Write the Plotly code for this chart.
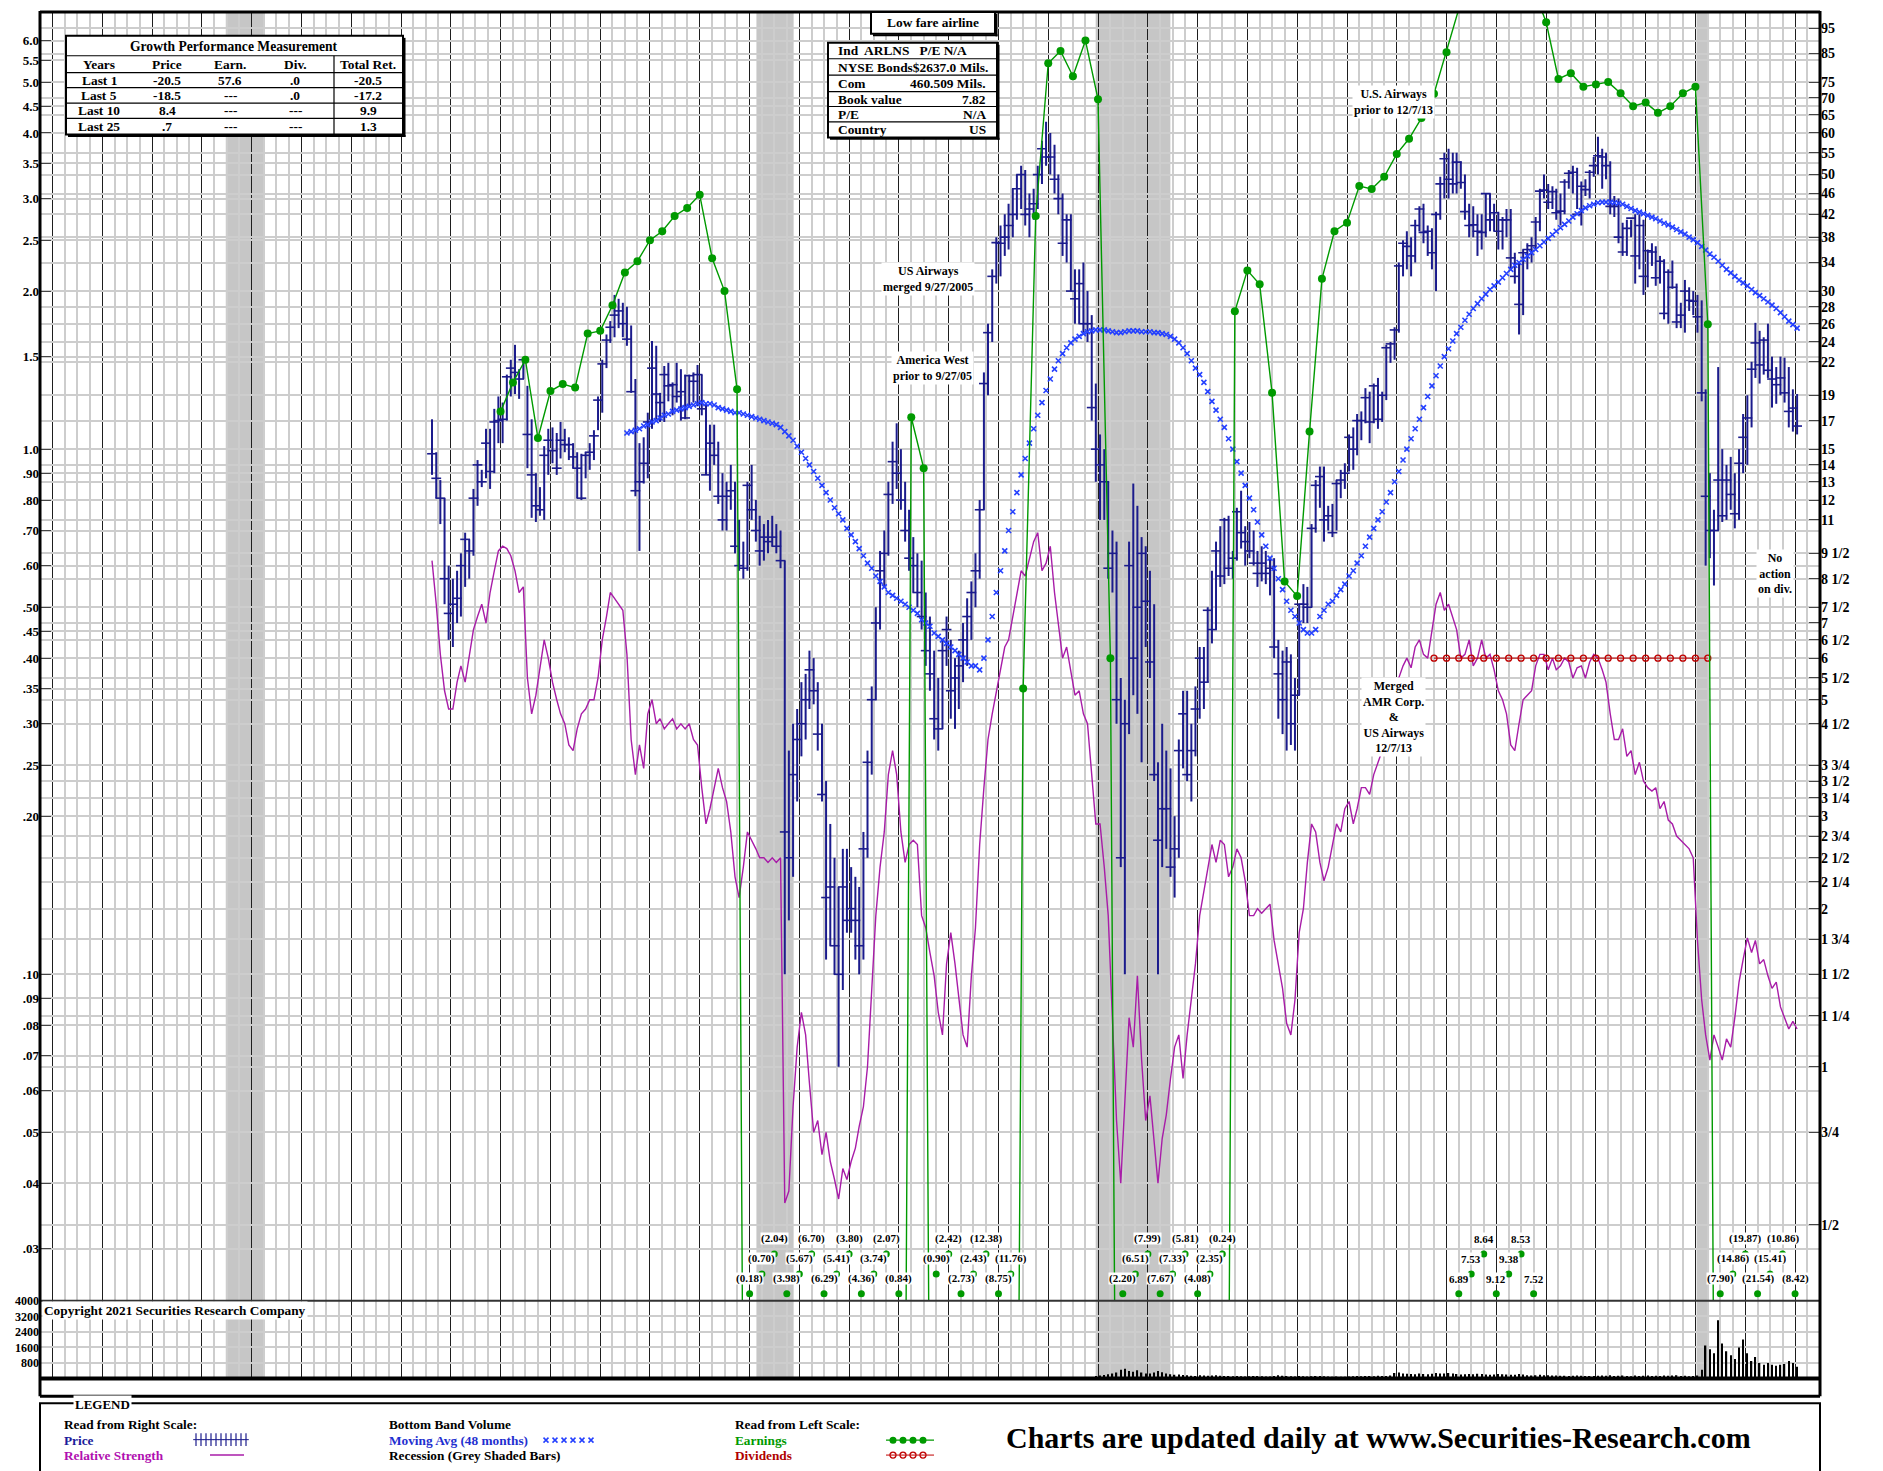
import numpy as np
import pandas as pd
import plotly.graph_objects as go

W, H = 1883, 1471
SERIF = "Liberation Serif"
NAVY = "#1b1b8c"
RS_COLOR = "#a81ca8"
MA_COLOR = "#2440ff"
EARN_COLOR = "#009a00"
DIV_COLOR = "#c00000"
GRID = "#cdcdcd"
REC = "#c6c6c6"

# ----------------------------------------------------------------- data
price_start = "1994-08"
price_high = [
    17.1, 14.8, 13.1, 12.1, 9.0,
    8.5, 8.8, 9.5, 10.4, 10.1, 12.6, 14.3, 13.7, 16.4, 16.4, 17.9, 18.9,
    18.4, 20.8, 22.2, 23.7, 21.3, 22.4, 19.8, 17.1, 13.5, 12.7, 15.2, 16.4,
    16.5, 16.1, 16.9, 16.4, 15.8, 15.4, 14.8, 14.7, 14.8, 15.4, 16.3, 18.9,
    22.2, 24.8, 26.3, 29.5, 29.0, 28.5, 28.0, 25.8, 20.4, 15.4, 15.8, 17.6,
    24.1, 23.6, 19.2, 21.6, 21.9, 20.1, 21.9, 21.3, 20.8, 20.8, 21.0, 21.7,
    20.8, 18.2, 16.7, 16.7, 15.5, 13.5, 13.0, 14.0, 13.0, 11.0, 10.0, 13.0,
    14.0, 12.0, 11.2, 10.8, 11.0, 11.2, 10.8, 10.5, 9.2, 4.0, 4.5, 4.8,
    5.4, 5.6, 6.2, 6.0, 5.4, 4.5, 3.5, 2.9, 2.5, 2.2, 2.6, 2.6,
    2.4, 2.3, 2.2, 2.8, 4.0, 5.3, 7.5, 9.6, 10.5, 13.0, 15.5, 16.8,
    15.0, 13.0, 11.5, 10.2, 9.5, 9.2, 8.0, 7.2, 6.2, 5.5, 6.5, 7.2,
    6.5, 6.0, 6.2, 7.0, 7.8, 8.4, 9.5, 12.0, 21.0, 26.0, 33.0, 38.0,
    40, 42, 44, 47, 50, 52, 51, 46, 47, 52, 58, 63,
    60, 57, 50, 46, 42, 42, 33, 33, 34, 30, 27, 20,
    16, 15, 13, 10.5, 10, 5.5, 5.0, 10.0, 12.9, 11.7, 10.2, 9.8,
    8.8, 7.6, 3.8, 4.5, 4.0, 3.7, 3.0, 4.2, 5.2, 5.2, 4.5, 5.3,
    6.3, 6.3, 7.5, 8.8, 10.0, 10.7, 11.1, 11.2, 9.6, 11.6, 12.5, 10.7,
    10.9, 10.5, 9.6, 9.8, 9.6, 9.3, 9.3, 6.5, 6.2, 6.3, 6.1, 5.5,
    7.6, 8.3, 8.2, 10.8, 13.1, 13.9, 13.9, 11.7, 11.8, 13.1, 13.7, 14.1,
    16.0, 16.5, 17.5, 17.7, 19.6, 19.3, 20.0, 20.5, 19.3, 23.7, 24.0, 25.6,
    34, 37.5, 39, 38, 41, 43.5, 44, 40, 39.5, 42.5, 49.5, 55,
    56, 55, 55, 53, 50, 44, 43.5, 42, 42, 46, 46, 44,
    42.5, 41.5, 43, 43, 35.5, 34, 36, 37, 38, 41.5, 47, 50,
    48, 47.5, 47, 46, 49, 51, 52, 51.5, 48.5, 49, 51, 54,
    59, 56, 55, 53, 45.5, 45, 40.5, 41, 41, 42, 42, 41,
    36, 37, 36.5, 35, 34.5, 33, 34.3, 31, 28.5, 31.5, 30.5, 30,
    29.5, 28.8, 19.5, 13.5, 11.5, 21.5, 15, 14, 14.5, 13.5, 15.0, 17.5,
    19.0, 22, 26.1, 25.2, 24.5, 26, 22.5, 21.5, 22.5, 22.4, 21.5, 19.5,
    19.1,
]
price_low = [
    13.4, 12.1, 10.8, 7.6, 6.5,
    6.3, 7.0, 7.2, 8.2, 8.5, 9.4, 11.7, 12.7, 13.2, 12.6, 13.5, 15.4,
    15.4, 17.0, 18.9, 19.1, 18.7, 20.4, 13.8, 11.1, 10.9, 11.2, 11.0, 13.4,
    14.1, 13.4, 14.4, 14.8, 14.3, 13.8, 12.1, 12.0, 13.2, 13.7, 14.3, 16.3,
    17.6, 21.4, 23.9, 24.5, 25.5, 24.5, 23.6, 19.2, 12.2, 9.6, 12.9, 13.2,
    16.4, 17.1, 16.9, 16.9, 18.5, 17.4, 18.4, 17.0, 17.1, 18.1, 18.4, 18.1,
    17.4, 13.4, 12.5, 14.0, 11.8, 10.5, 10.5, 11.5, 9.5, 8.8, 8.5, 8.8,
    11.0, 10.0, 9.0, 9.2, 9.5, 9.8, 9.5, 8.9, 1.5, 1.9, 2.3, 3.2,
    3.9, 4.2, 4.8, 4.9, 4.0, 3.2, 1.6, 1.7, 1.5, 1.0, 1.4, 1.8,
    1.8, 1.6, 1.5, 1.6, 2.5, 3.6, 5.0, 6.8, 8.2, 9.4, 11.8, 12.6,
    11.5, 10.0, 8.8, 8.0, 7.5, 6.8, 5.8, 5.2, 4.2, 4.0, 4.4, 5.8,
    4.6, 4.4, 4.8, 5.4, 5.8, 6.5, 7.5, 8.5, 11.5, 19.0, 24.0, 31.0,
    32, 35, 36, 38, 41, 43, 40, 38, 41, 43, 48, 52,
    50, 46, 42, 35, 34, 30, 26, 26, 25, 24, 17, 13,
    11, 11, 8.5, 8.0, 4.5, 2.4, 1.5, 4.3, 5.1, 4.7, 3.8, 6.3,
    5.5, 3.5, 1.5, 2.4, 2.6, 2.3, 2.1, 2.5, 3.7, 3.5, 3.2, 3.9,
    4.6, 4.8, 5.4, 6.4, 6.8, 8.2, 8.3, 8.6, 8.5, 9.2, 9.7, 9.0,
    9.3, 9.0, 8.2, 8.4, 8.3, 7.9, 6.0, 4.6, 4.3, 4.0, 4.1, 4.0,
    5.1, 7.0, 7.0, 7.5, 10.4, 11.6, 10.0, 10.5, 10.2, 10.5, 12.1, 12.6,
    13.6, 13.7, 14.6, 15.6, 16.8, 15.4, 16.8, 16.4, 16.9, 18.6, 21.9, 22.2,
    25, 32, 33, 32, 34, 39, 37, 35, 33, 30, 41, 45,
    45, 46, 46, 47, 41, 38, 38, 35, 36, 38, 39, 39,
    36, 36, 38, 33, 31, 24.8, 27, 33, 34, 36, 39, 45,
    43, 43, 41, 40, 42, 47, 46, 43, 40, 45.5, 45, 49.5,
    50, 47, 49, 42, 41.5, 37, 35, 35, 38, 31, 33, 29.5,
    30.5, 33.5, 30.7, 31, 26.5, 26, 30.3, 25.5, 25.5, 25, 27.5, 27,
    25, 18.5, 9.0, 9.3, 8.25, 10.5, 10.9, 11, 11.5, 10.6, 11.0, 13.5,
    14.0, 16.5, 20.5, 20.0, 20.8, 20.5, 18, 18.3, 19, 18.4, 16.5, 16.2,
    16.0,
]
price_close = [
    14.7, 13.2, 12.1, 8.5, 7.3,
    7.6, 7.8, 9.0, 10.1, 9.6, 12.1, 14.0, 13.0, 15.4, 13.6, 16.9, 17.0,
    17.1, 20.6, 21.4, 21.0, 20.4, 22.2, 16.0, 13.4, 11.7, 11.5, 14.6, 15.6,
    14.9, 13.8, 15.6, 15.3, 15.3, 14.5, 13.8, 12.1, 14.6, 14.8, 15.9, 18.6,
    21.8, 24.2, 25.6, 27.0, 27.5, 26.0, 24.3, 19.3, 12.5, 13.0, 14.1, 16.9,
    21.4, 19.1, 18.4, 20.8, 19.8, 19.9, 18.9, 19.3, 17.2, 20.7, 20.2, 20.8,
    17.9, 13.4, 15.4, 14.6, 12.2, 11.0, 12.2, 12.5, 9.8, 9.0, 8.9, 12.8,
    11.5, 10.5, 9.6, 10.2, 10.0, 10.2, 9.8, 9.2, 2.8, 2.5, 3.6, 4.2,
    4.5, 5.0, 5.7, 5.2, 4.3, 3.3, 2.1, 2.2, 1.7, 1.5, 2.2, 1.9,
    2.0, 1.9, 1.7, 2.6, 3.8, 5.0, 7.0, 8.8, 9.5, 12.3, 14.2, 13.5,
    12.0, 10.5, 9.3, 9.0, 8.0, 7.2, 6.2, 5.6, 4.6, 4.4, 6.2, 6.8,
    5.2, 5.5, 5.8, 6.5, 7.2, 8.0, 8.8, 11.5, 20.0, 25.0, 32.0, 37.1,
    37, 38, 40, 42, 47, 50, 42, 43, 44, 50, 56, 54,
    54, 49, 45, 37, 41, 30, 29, 31, 26, 26, 18, 15,
    14, 13, 8.9, 9.5, 5.0, 2.5, 4.5, 9.0, 6.0, 7.5, 9.5, 7.7,
    5.9, 3.6, 2.7, 3.1, 3.1, 2.4, 2.6, 4.0, 4.7, 3.6, 4.0, 4.8,
    6.0, 5.4, 7.4, 6.8, 9.6, 8.6, 11.0, 8.9, 9.3, 11.4, 10.4, 10.0,
    9.6, 9.1, 8.7, 9.1, 8.7, 8.9, 6.3, 5.6, 5.0, 5.9, 4.5, 5.1,
    7.6, 7.6, 7.5, 10.6, 12.8, 13.3, 11.0, 11.2, 10.4, 12.9, 13.1, 13.5,
    15.8, 15.0, 17.0, 17.0, 18.8, 16.9, 19.8, 17.1, 19.0, 23.4, 23.8, 25.3,
    33.5, 37, 36.5, 35, 40, 43, 38.8, 39, 35.5, 42, 48, 53.6,
    49, 48, 52.8, 48.3, 42.5, 40, 40.1, 39, 38.8, 46, 41, 42.3,
    39, 41, 41, 34.7, 32, 28.3, 35.5, 36, 36.6, 40.6, 46.5, 46.7,
    44.3, 46.4, 42.3, 42.6, 48.4, 50.3, 50.5, 42, 47.5, 46.8, 50.5, 52,
    54.3, 54, 52, 43.5, 43.5, 38, 35.6, 39.5, 41.3, 35, 40, 32,
    35.8, 35.6, 31.8, 34.2, 27.2, 32.6, 30.5, 26.2, 27, 30, 28.8, 28.7,
    26.8, 19.2, 12.2, 10.5, 10.5, 13.1, 11.2, 13.1, 12.3, 11.3, 14.1, 15.8,
    17.2, 21.3, 23.9, 21.7, 24.2, 21.2, 20.4, 19.9, 20.5, 19.2, 17.7, 17.96,
    16.6,
]
rel_strength = [
    9.2, 7.6, 6.1, 5.2, 4.8,
    4.8, 5.4, 5.8, 5.4, 6.0, 6.8, 7.2, 7.6, 7.0, 8.0, 8.8, 9.6,
    9.8, 9.7, 9.4, 8.8, 8.0, 8.2, 5.5, 4.7, 5.1, 5.7, 6.5, 6.0,
    5.4, 5.0, 4.7, 4.5, 4.1, 4.0, 4.4, 4.7, 4.8, 5.0, 5.0, 5.5,
    6.5, 7.2, 8.0, 7.8, 7.6, 7.4, 6.1, 4.2, 3.6, 4.1, 3.7, 4.7,
    5.0, 4.5, 4.6, 4.4, 4.5, 4.6, 4.4, 4.5, 4.4, 4.5, 4.2, 4.1,
    3.4, 2.9, 3.1, 3.4, 3.7, 3.4, 3.2, 2.8, 2.3, 2.1, 2.4, 2.8,
    2.7, 2.6, 2.5, 2.5, 2.45, 2.5, 2.45, 2.5, 0.55, 0.58, 0.84, 1.09,
    1.27, 1.15, 0.93, 0.75, 0.79, 0.68, 0.75, 0.66, 0.61, 0.56, 0.64, 0.61,
    0.66, 0.70, 0.77, 0.84, 1.0, 1.41, 1.94, 2.4, 2.8, 3.6, 4.0, 3.6,
    2.8, 2.45, 2.65, 2.7, 2.65, 1.94, 1.84, 1.65, 1.49, 1.27, 1.15, 1.57,
    1.8, 1.57, 1.34, 1.15, 1.09, 1.49, 1.84, 2.65, 3.4, 4.2, 4.7, 5.2,
    5.7, 6.3, 6.5, 7.2, 8.0, 8.8, 8.6, 9.3, 10.0, 10.4, 8.8, 9.1,
    9.8, 8.0, 7.0, 6.0, 6.3, 5.7, 5.1, 5.2, 4.7, 4.5, 3.6, 2.9,
    2.9, 2.4, 1.94, 1.27, 0.79, 0.6, 0.84, 1.24, 1.09, 1.49, 1.03, 0.79,
    0.88, 0.72, 0.6, 0.73, 0.81, 0.95, 1.09, 1.15, 0.95, 1.15, 1.34, 1.57,
    1.94, 2.15, 2.4, 2.65, 2.45, 2.7, 2.65, 2.3, 2.4, 2.6, 2.5, 2.26,
    1.94, 1.94, 2.0, 1.96, 2.0, 2.04, 1.74, 1.57, 1.41, 1.21, 1.15, 1.34,
    1.8, 2.0, 2.45, 2.9, 2.8, 2.45, 2.26, 2.4, 2.65, 2.9, 2.8, 3.1,
    3.2, 2.9, 3.1, 3.4, 3.4, 3.3, 3.6, 3.8, 4.0, 4.5, 5.0, 5.4,
    5.5, 5.8, 6.0, 5.75, 6.3, 6.5, 6.1, 6.0, 6.8, 7.6, 8.0, 7.4,
    7.6, 7.2, 6.8, 6.0, 6.1, 6.5, 5.8, 6.0, 6.5, 6.0, 6.1, 5.7,
    5.2, 5.0, 4.7, 4.1, 4.0, 4.5, 5.0, 5.1, 5.2, 5.8, 6.1, 6.1,
    5.7, 6.0, 5.7, 5.8, 6.0, 5.9, 5.5, 5.75, 5.8, 5.5, 5.9, 6.1,
    6.0, 5.7, 5.4, 4.7, 4.2, 4.2, 4.4, 3.9, 4.0, 3.6, 3.8, 3.5,
    3.4, 3.35, 3.4, 3.1, 3.2, 2.95, 2.9, 2.75, 2.7, 2.65, 2.6, 2.5,
    1.74, 1.34, 1.15, 1.03, 1.15, 1.09, 1.03, 1.13, 1.09, 1.24, 1.45, 1.6,
    1.76, 1.65, 1.74, 1.57, 1.6, 1.49, 1.41, 1.45, 1.3, 1.24, 1.18, 1.22,
    1.18,
]
ma_start = "1998-07"
moving_avg = [
    16.1, 16.2, 16.3, 16.4, 16.6, 16.7,
    16.9, 17.0, 17.2, 17.4, 17.5, 17.7, 17.8, 17.9, 18.0, 18.1, 18.2, 18.3,
    18.4, 18.3, 18.3, 18.2, 18.0, 17.9, 17.8, 17.7, 17.6, 17.6, 17.5, 17.4,
    17.3, 17.2, 17.1, 17.0, 16.9, 16.8, 16.7, 16.5, 16.2, 15.9, 15.6, 15.2,
    14.8, 14.4, 14.0, 13.6, 13.2, 12.8, 12.4, 12.0, 11.6, 11.3, 11.0, 10.6,
    10.3, 10.0, 9.7, 9.4, 9.1, 8.9, 8.6, 8.4, 8.2, 8.0, 7.9, 7.8,
    7.7, 7.6, 7.5, 7.4, 7.3, 7.1, 7.0, 6.9, 6.7, 6.6, 6.5, 6.4,
    6.3, 6.2, 6.1, 6.0, 5.9, 5.8, 5.8, 5.7, 6.0, 6.5, 7.2, 8.0,
    8.8, 9.6, 10.5, 11.4, 12.4, 13.4, 14.4, 15.4, 16.4, 17.4, 18.4, 19.4,
    20.4, 21.3, 22.1, 22.8, 23.4, 23.9, 24.3, 24.6, 24.9, 25.1, 25.2, 25.3,
    25.3, 25.3, 25.2, 25.1, 25.0, 25.0, 25.1, 25.2, 25.2, 25.2, 25.1, 25.1,
    25.1, 25.0, 25.0, 24.9, 24.8, 24.6, 24.3, 23.9, 23.4, 22.8, 22.1, 21.4,
    20.8, 20.1, 19.3, 18.5, 17.8, 17.1, 16.5, 15.7, 15.0, 14.2, 13.5, 12.8,
    12.1, 11.5, 10.9, 10.3, 9.8, 9.3, 8.9, 8.5, 8.1, 7.7, 7.4, 7.2,
    7.0, 6.8, 6.7, 6.7, 6.8, 7.2, 7.4, 7.6, 7.7, 7.9, 8.1, 8.3,
    8.6, 8.8, 9.1, 9.4, 9.8, 10.2, 10.6, 11.0, 11.4, 11.9, 12.4, 13.0,
    13.6, 14.3, 15.0, 15.7, 16.4, 17.1, 18.0, 18.9, 19.8, 20.7, 21.6, 22.5,
    23.3, 24.1, 24.9, 25.6, 26.4, 27.1, 27.8, 28.4, 29.0, 29.6, 30.2, 30.7,
    31.2, 31.8, 32.4, 33.0, 33.6, 34.0, 34.5, 35.0, 35.5, 36.0, 36.6, 37.2,
    37.8, 38.4, 39.0, 39.6, 40.2, 40.8, 41.5, 42.1, 42.7, 43.2, 43.6, 43.9,
    44.2, 44.3, 44.3, 44.3, 44.2, 44.1, 43.9, 43.5, 43.1, 42.7, 42.4, 42.1,
    41.8, 41.5, 41.2, 40.8, 40.4, 40.1, 39.7, 39.3, 38.9, 38.5, 38.0, 37.6,
    37.1, 36.5, 35.9, 35.3, 34.8, 34.2, 33.6, 33.0, 32.5, 32.0, 31.5, 31.1,
    30.7, 30.2, 29.8, 29.4, 29.0, 28.6, 28.2, 27.8, 27.3, 26.8, 26.3, 25.9,
    25.5,
]
volume_start = "2007-12"
volume = [
    120,
    150, 180, 220, 250, 300, 450, 500, 380, 350, 420, 300, 250,
    260, 300, 380, 320, 260, 210, 190, 200, 180, 160, 140, 130,
    160, 150, 140, 150, 170, 140, 130, 120, 110, 120, 110, 100,
    110, 120, 130, 110, 100, 100, 120, 160, 140, 130, 110, 100,
    120, 110, 100, 110, 120, 130, 110, 100, 90, 100, 90, 90,
    100, 110, 120, 110, 130, 120, 110, 140, 120, 130, 150, 280,
    300, 260, 240, 230, 220, 250, 230, 220, 240, 280, 260, 250,
    280, 250, 230, 200, 220, 230, 220, 240, 230, 200, 190, 200,
    230, 210, 200, 190, 190, 230, 200, 160, 150, 160, 190, 160,
    170, 150, 150, 140, 140, 130, 140, 150, 140, 120, 130, 120,
    140, 150, 140, 170, 130, 140, 150, 120, 110, 150, 130, 140,
    150, 120, 140, 130, 150, 140, 150, 160, 130, 140, 110, 120,
    150, 450, 1700, 1500, 1300, 3000, 1800, 1400, 1200, 1000, 1600, 2000,
    1300, 900, 1100, 800, 700, 800, 700, 650, 700, 750, 900, 800,
    600,
]
earn_start = "1996-01"
earnings = [
    1.18, 1.34, 1.48, 1.05,
    1.29, 1.33, 1.31, 1.66,
    1.68, 1.88, 2.17, 2.28,
    2.50, 2.60, 2.78, 2.88,
    3.05, 2.31, 2.00, 1.30,
    -0.18, -0.70, -2.04, -3.98,
    -5.67, -6.70, -6.29, -5.41,
    -3.80, -4.36, -3.74, -2.07,
    -0.84, 1.15, 0.92, -0.90,
    -2.42, -2.73, -2.43, -12.38,
    -8.75, -11.76, 0.35, 2.78,
    5.43, 5.73, 5.13, 6.00,
    4.64, 0.40, -2.20, -6.51,
    -7.99, -7.67, -7.33, -5.81,
    -4.08, -2.35, -0.24, 1.83,
    2.19, 2.06, 1.28, 0.56,
    0.525, 1.08, 2.11, 2.60,
    2.70, 3.17, 3.13, 3.30,
    3.65, 3.90, 4.27, 4.75,
    5.70, 6.89, 7.53, 8.64,
    9.12, 9.38, 8.53, 7.52,
    6.50, 5.07, 5.20, 4.90,
    4.95, 5.00, 4.76, 4.50,
    4.57, 4.37, 4.50, 4.76,
    4.90, 1.73, -7.90, -14.86,
    -19.87, -21.54, -15.41, -10.86,
    -8.42,
]
div_start = "2014-10"
dividends = [0.40, 0.40, 0.40, 0.40, 0.40, 0.40, 0.40, 0.40, 0.40, 0.40, 0.40, 0.40,
             0.40, 0.40, 0.40, 0.40, 0.40, 0.40, 0.40, 0.40, 0.40, 0.40, 0.40]
recessions = [("1990-06-25", "1991-04-01"), ("2001-02-20", "2001-11-20"),
              ("2007-12-15", "2009-06-15"), ("2020-01-10", "2020-04-10")]
years = list(range(1987, 2023))

right_vals = [95, 85, 75, 70, 65, 60, 55, 50, 46, 42, 38, 34, 30, 28, 26, 24, 22, 19, 17, 15,
              14, 13, 12, 11, 9.5, 8.5, 7.5, 7, 6.5, 6, 5.5, 5, 4.5, 3.75, 3.5, 3.25, 3, 2.75,
              2.5, 2.25, 2, 1.75, 1.5, 1.25, 1, 0.75, 0.5]
right_text = ["95", "85", "75", "70", "65", "60", "55", "50", "46", "42", "38", "34", "30", "28",
              "26", "24", "22", "19", "17", "15", "14", "13", "12", "11", "9 1/2", "8 1/2",
              "7 1/2", "7", "6 1/2", "6", "5 1/2", "5", "4 1/2", "3 3/4", "3 1/2", "3 1/4", "3",
              "2 3/4", "2 1/2", "2 1/4", "2", "1 3/4", "1 1/2", "1 1/4", "1", "3/4", "1/2"]
left_vals = [6.0, 5.5, 5.0, 4.5, 4.0, 3.5, 3.0, 2.5, 2.0, 1.5, 1.0, 0.9, 0.8, 0.7, 0.6, 0.5, 0.45,
             0.4, 0.35, 0.3, 0.25, 0.2, 0.1, 0.09, 0.08, 0.07, 0.06, 0.05, 0.04, 0.03]
left_text = ["6.0", "5.5", "5.0", "4.5", "4.0", "3.5", "3.0", "2.5", "2.0", "1.5", "1.0", ".90",
             ".80", ".70", ".60", ".50", ".45", ".40", ".35", ".30", ".25", ".20", ".10", ".09",
             ".08", ".07", ".06", ".05", ".04", ".03"]
extra_grid = [100, 90, 80, 44, 40, 36, 32, 20, 18, 16, 10, 9, 8, 4.75, 4.25, 4, 1.875, 1.625,
              1.375, 1.125, 0.875, 0.625, 0.4]
vol_vals = [800, 1600, 2400, 3200, 4000]
vol_left_text = ["800", "1600", "2400", "3200", "4000"]
vol_right_text = ["800", "1600", "2400", "3200", "4000M"]

# ----------------------------------------------------------------- geometry
X0, X1 = 40, 1820
PRICE_TOP, PRICE_BOT, VOL_BOT, STRIP_BOT, LEG_TOP = 5, 1300, 1378, 1396, 1401
LEFT_LO, LEFT_HI = 0.02389, 6.80      # earnings scale at bottom / top of price panel
SCALE_RATIO = 15.0                     # right (price) scale = 15 x left scale
XR = ["1986-10-01", "2022-07-03"]


def pxx(x):
    return x / W


def pyy(y):
    return 1 - y / H


XDOM = [pxx(X0), pxx(X1)]


def month_centers(start, n):
    return [d.strftime("%Y-%m-%d") for d in
            pd.date_range(start + "-01", periods=n, freq="MS") + pd.Timedelta(days=15)]


def quarters(start, n):
    return [d.strftime("%Y-%m-%d") for d in pd.date_range(start + "-01", periods=n, freq="QS")]


def left_val_at_px(ypx):
    lo, hi = np.log10(LEFT_LO), np.log10(LEFT_HI)
    f = (PRICE_BOT - ypx) / (PRICE_BOT - PRICE_TOP)
    return 10 ** (lo + f * (hi - lo))


pdates = month_centers(price_start, len(price_high))
mdates = month_centers(ma_start, len(moving_avg))
vdates = month_centers(volume_start, len(volume))
edates = quarters(earn_start, len(earnings))
ddates = quarters(div_start, len(dividends))

fig = go.Figure()

# volume
fig.add_trace(go.Bar(x=vdates, y=volume, xaxis="x2", yaxis="y3", width=10 * 86400000,
                     marker=dict(color="black", line=dict(width=0)), hoverinfo="skip"))

# relative strength (right scale)
fig.add_trace(go.Scatter(x=pdates, y=rel_strength, mode="lines", xaxis="x", yaxis="y",
                         line=dict(color=RS_COLOR, width=1.4), hoverinfo="skip"))

# price bars
bx, by = [], []
for d, hi, lo in zip(pdates, price_high, price_low):
    bx += [d, d, None]
    by += [lo, hi, None]
fig.add_trace(go.Scatter(x=bx, y=by, mode="lines", xaxis="x", yaxis="y",
                         line=dict(color=NAVY, width=2), hoverinfo="skip", connectgaps=False))
fig.add_trace(go.Scatter(x=pdates, y=price_close, mode="markers", xaxis="x", yaxis="y",
                         marker=dict(symbol="line-ew", size=7, line=dict(color=NAVY, width=1.6)),
                         hoverinfo="skip"))

# moving average
fig.add_trace(go.Scatter(x=mdates, y=moving_avg, mode="markers", xaxis="x", yaxis="y",
                         marker=dict(symbol="x-thin", size=5, line=dict(color=MA_COLOR, width=1.6)),
                         hoverinfo="skip"))

# dividends (left scale)
fig.add_trace(go.Scatter(x=ddates, y=dividends, mode="lines+markers", xaxis="x", yaxis="y2",
                         line=dict(color=DIV_COLOR, width=1),
                         marker=dict(symbol="circle-open", size=6, color=DIV_COLOR,
                                     line=dict(width=1.3)), hoverinfo="skip"))

# earnings (left scale); non-positive values run off the bottom of the panel
e_plot = [v if v > 0 else 1e-4 for v in earnings]
fig.add_trace(go.Scatter(x=edates, y=e_plot, mode="lines+markers", xaxis="x", yaxis="y2",
                         line=dict(color=EARN_COLOR, width=1.4),
                         marker=dict(size=8, color=EARN_COLOR), hoverinfo="skip"))

# off-scale earnings labels at the foot of the price panel
ROW_DOT = [1293, 1273, 1253]
lab_x, lab_y = [], []
annotations = []
last_i, counter = None, 0
for i, (d, v) in enumerate(zip(edates, earnings)):
    if v > 0 and v <= LEFT_HI:
        continue
    if last_i is None or i - last_i > 3:
        counter = 0
    row = counter % 3
    counter += 1
    last_i = i
    lab_x.append(d)
    lab_y.append(left_val_at_px(ROW_DOT[row]))
    txt = f"({abs(v):.2f})" if v <= 0 else f"{v:.2f}"
    annotations.append(dict(x=d, xref="x", y=pyy(ROW_DOT[row] - 9), yref="paper",
                            text=f"<b>{txt}</b>", showarrow=False, bgcolor="white",
                            borderpad=0, height=11, valign="middle",
                            font=dict(family=SERIF, size=11, color="black")))
fig.add_trace(go.Scatter(x=lab_x, y=lab_y, mode="markers", xaxis="x", yaxis="y2",
                         marker=dict(size=7, color=EARN_COLOR), hoverinfo="skip"))

# legend glyphs on a pixel canvas
gx, gy = [], []
for j in range(11):
    xx = 196 + j * 5
    gx += [xx, xx, None]
    gy += [1433, 1446, None]
fig.add_trace(go.Scatter(x=gx, y=gy, mode="lines", xaxis="x4", yaxis="y6",
                         line=dict(color=NAVY, width=1.2), hoverinfo="skip"))
fig.add_trace(go.Scatter(x=[196 + j * 5 for j in range(11)], y=[1439.5] * 11, mode="markers",
                         xaxis="x4", yaxis="y6",
                         marker=dict(symbol="line-ew", size=4, line=dict(color=NAVY, width=1)),
                         hoverinfo="skip"))
fig.add_trace(go.Scatter(x=[210, 244], y=[1455, 1455], mode="lines", xaxis="x4", yaxis="y6",
                         line=dict(color=RS_COLOR, width=1.4), hoverinfo="skip"))
fig.add_trace(go.Scatter(x=[546 + j * 9 for j in range(6)], y=[1440] * 6, mode="markers",
                         xaxis="x4", yaxis="y6",
                         marker=dict(symbol="x-thin", size=5, line=dict(color=MA_COLOR, width=1.5)),
                         hoverinfo="skip"))
fig.add_trace(go.Scatter(x=[886, 934], y=[1440, 1440], mode="lines", xaxis="x4", yaxis="y6",
                         line=dict(color=EARN_COLOR, width=1.4), hoverinfo="skip"))
fig.add_trace(go.Scatter(x=[893, 903, 913, 923], y=[1440] * 4, mode="markers", xaxis="x4",
                         yaxis="y6", marker=dict(size=7, color=EARN_COLOR), hoverinfo="skip"))
fig.add_trace(go.Scatter(x=[886, 934], y=[1455, 1455], mode="lines", xaxis="x4",
                         yaxis="y6", line=dict(color=DIV_COLOR, width=1), hoverinfo="skip"))
fig.add_trace(go.Scatter(x=[893, 903, 913, 923], y=[1455] * 4, mode="markers", xaxis="x4",
                         yaxis="y6", marker=dict(symbol="circle-open", size=6, color=DIV_COLOR,
                                                 line=dict(width=1.3)), hoverinfo="skip"))

# ----------------------------------------------------------------- axes
tfont = dict(family=SERIF, size=13, color="black", weight="bold")
xcommon = dict(type="date", range=XR, domain=XDOM, showticklabels=False, ticks="",
               tick0="1987-01-01", dtick="M12", showgrid=True, gridcolor="#1e1e1e",
               gridwidth=1.2, zeroline=False, showline=False,
               minor=dict(tick0="1987-01-01", dtick="M3", showgrid=True, gridcolor=GRID,
                          gridwidth=2, ticks=""))
PRICE_DOM = [pyy(PRICE_BOT), pyy(PRICE_TOP)]
VOL_DOM = [pyy(VOL_BOT), pyy(PRICE_BOT)]
STRIP_DOM = [pyy(STRIP_BOT), pyy(VOL_BOT)]
r_lo, r_hi = np.log10(LEFT_LO * SCALE_RATIO), np.log10(LEFT_HI * SCALE_RATIO)
l_lo, l_hi = np.log10(LEFT_LO), np.log10(LEFT_HI)

layout = dict(
    width=W, height=H, autosize=False, margin=dict(l=0, r=0, t=0, b=0),
    paper_bgcolor="white", plot_bgcolor="white", showlegend=False,
    font=dict(family=SERIF, color="black"),
    xaxis=dict(xcommon, anchor="y"),
    yaxis=dict(type="log", range=[r_lo, r_hi], domain=PRICE_DOM, anchor="x", side="right",
               tickmode="array", tickvals=right_vals, ticktext=right_text, ticks="inside",
               ticklen=11, tickcolor="#444", tickwidth=1.4, showgrid=True, gridcolor=GRID,
               gridwidth=2, zeroline=False, showline=False,
               tickfont=dict(family=SERIF, size=14, color="black", weight="bold")),
    yaxis2=dict(type="log", range=[l_lo, l_hi], overlaying="y", anchor="x", side="left",
                tickmode="array", tickvals=left_vals, ticktext=left_text, ticks="inside",
                ticklen=11, tickcolor="#444", tickwidth=1.4, showgrid=True, gridcolor=GRID,
                gridwidth=2, zeroline=False, showline=False, tickfont=tfont),
    yaxis7=dict(type="log", range=[r_lo, r_hi], overlaying="y", anchor="x", side="right",
                tickmode="array", tickvals=extra_grid, showticklabels=False, ticks="",
                showgrid=True, gridcolor=GRID, gridwidth=2, zeroline=False, showline=False),
    xaxis2=dict(xcommon, anchor="y3"),
    yaxis3=dict(range=[0, 4000], domain=VOL_DOM, anchor="x2", side="left", tickmode="array",
                tickvals=vol_vals, ticktext=vol_left_text, ticks="", showgrid=True,
                gridcolor=GRID, gridwidth=2, zeroline=False, showline=False,
                tickfont=dict(family=SERIF, size=12, color="black", weight="bold")),
    yaxis4=dict(range=[0, 4000], overlaying="y3", anchor="x2", side="right", tickmode="array",
                tickvals=vol_vals, ticktext=vol_right_text, ticks="", showgrid=False,
                zeroline=False, showline=False,
                tickfont=dict(family=SERIF, size=13, color="black", weight="bold")),
    xaxis3=dict(type="date", range=XR, domain=XDOM, anchor="y5", tickmode="array",
                tickvals=[f"{y}-07-02" for y in years],
                ticktext=["'" + str(y)[2:] for y in years], ticks="", showgrid=False,
                ticklabelposition="inside", zeroline=False, showline=False,
                tickfont=dict(family=SERIF, size=12, color="black", weight="bold"),
                minor=dict(tickmode="linear", tick0="1987-01-01", dtick="M12", showgrid=True,
                           gridcolor="black", gridwidth=1.6, ticks="")),
    yaxis5=dict(domain=STRIP_DOM, range=[0, 1], anchor="x3", visible=False),
    xaxis4=dict(domain=[0, 1], range=[0, W], anchor="y6", visible=False),
    yaxis6=dict(domain=[0, pyy(LEG_TOP)], range=[H, LEG_TOP], anchor="x4", visible=False),
)

# ----------------------------------------------------------------- shapes
shapes = []
for a, b in recessions:
    shapes.append(dict(type="rect", xref="x", yref="paper", x0=a, x1=b, y0=pyy(VOL_BOT),
                       y1=pyy(PRICE_TOP), fillcolor=REC, line=dict(width=0), layer="below"))


def hline(y, x0, x1, w, c="black"):
    shapes.append(dict(type="line", xref="paper", yref="paper", x0=pxx(x0), x1=pxx(x1),
                       y0=pyy(y), y1=pyy(y), line=dict(color=c, width=w), layer="above"))


def vline(x, y0, y1, w, c="black"):
    shapes.append(dict(type="line", xref="paper", yref="paper", x0=pxx(x), x1=pxx(x),
                       y0=pyy(y0), y1=pyy(y1), line=dict(color=c, width=w), layer="above"))


def box(x0, y0, x1, y1, w=2, shadow=True):
    shapes.append(dict(type="rect", xref="paper", yref="paper", x0=pxx(x0), x1=pxx(x1),
                       y0=pyy(y1), y1=pyy(y0), fillcolor="white",
                       line=dict(color="black", width=w), layer="above"))
    if shadow:
        vline(x1 + 1.5, y0 + 2, y1 + 2.5, 2)
        hline(y1 + 1.5, x0 + 2, x1 + 2.5, 2)


hline(PRICE_TOP, X0, X1, 3)
hline(PRICE_BOT, X0, X1, 2, "#333")
hline(VOL_BOT, X0, X1, 4)
hline(STRIP_BOT, X0, X1, 3)
vline(X0, PRICE_TOP - 1, STRIP_BOT, 3)
vline(X1, PRICE_TOP - 1, STRIP_BOT, 3)
# legend frame
shapes.append(dict(type="rect", xref="paper", yref="paper", x0=pxx(X0), x1=pxx(X1),
                   y0=pyy(1475), y1=pyy(LEG_TOP + 2), line=dict(color="black", width=2),
                   layer="above"))

# growth table
box(66, 29, 403, 128, 2)
for yy in [49, 66, 81, 96.5, 112]:
    hline(yy, 66, 403, 1.2)
vline(334, 49, 128, 1.2)
# info boxes
box(871, 5, 995, 27, 2)
box(828, 36, 997, 131, 2)
for yy in [52, 68.5, 85, 100, 115.5]:
    hline(yy, 828, 997, 1.2)
layout["shapes"] = shapes


# ----------------------------------------------------------------- text
def ann(x, y, text, size=13, color="black", xanchor="center", bg=None):
    d = dict(x=pxx(x), y=pyy(y), xref="paper", yref="paper", text=text, showarrow=False,
             xanchor=xanchor, yanchor="middle",
             font=dict(family=SERIF, size=size, color=color, weight="bold"))
    if bg:
        d["bgcolor"] = bg
        d["borderpad"] = 1
    annotations.append(d)


ann(234, 39.5, "Growth Performance Measurement", size=13.6)
cols = [99, 167, 230, 295, 368]
table_rows = [
    ["Years", "Price", "Earn.", "Div.", "Total Ret."],
    ["Last 1", "-20.5", "57.6", ".0", "-20.5"],
    ["Last 5", "-18.5", "---", ".0", "-17.2"],
    ["Last 10", "8.4", "---", "---", "9.9"],
    ["Last 25", ".7", "---", "---", "1.3"],
]
for yy, row in zip([57.5, 73.5, 88.5, 104, 120], table_rows):
    for cx, t in zip(cols, row):
        ann(cx, yy, t, size=13.4)

ann(933, 16, "Low fare airline", size=13.4)
info_left = ["Ind  ARLNS   P/E N/A", "NYSE Bonds$2637.0 Mils.", "Com", "Book value", "P/E", "Country"]
info_right = ["", "", "460.509 Mils.", "7.82", "N/A", "US"]
for yy, lt, rt in zip([44, 60.5, 76.5, 92.5, 108, 123.5], info_left, info_right):
    ann(836, yy, lt, size=13.4, xanchor="left")
    if rt:
        ann(988, yy, rt, size=13.4, xanchor="right")

ann(928, 273, "US Airways<br>merged 9/27/2005", size=12, bg="white")
ann(932, 363, "America West<br>prior to 9/27/05", size=12, bg="white")
ann(1393, 95, "U.S. Airways<br>prior to 12/7/13", size=12, bg="white")
ann(1393, 713, "Merged<br>AMR Corp.<br>&<br>US Airways<br>12/7/13", size=12, bg="white")
ann(1775, 569, "No<br>action<br>on div.", size=12, bg="white")
ann(42, 1310, "Copyright 2021 Securities Research Company", size=13.3, xanchor="left", bg="white")

ann(102, 1404, "LEGEND", size=13, bg="white")
ann(62, 1424, "Read from Right Scale:", size=13.3, xanchor="left")
ann(62, 1440, "Price", size=13.3, color="#1b1b9a", xanchor="left")
ann(62, 1455, "Relative Strength", size=13.3, color="#b010b0", xanchor="left")
ann(387, 1424, "Bottom Band Volume", size=13.3, xanchor="left")
ann(387, 1440, "Moving Avg (48 months)", size=13.3, color="#1f2fd0", xanchor="left")
ann(387, 1455, "Recession (Grey Shaded Bars)", size=13.3, xanchor="left")
ann(733, 1424, "Read from Left Scale:", size=13.3, xanchor="left")
ann(733, 1440, "Earnings", size=13.3, color="#009a00", xanchor="left")
ann(733, 1455, "Dividends", size=13.3, color="#b00000", xanchor="left")
ann(1378, 1437, "Charts are updated daily at www.Securities-Research.com", size=30)

layout["annotations"] = annotations
fig.update_layout(**layout)
fig.write_html(
    "out.html", config={"displayModeBar": False},
    post_script=("document.documentElement.style.margin='0px';"
                 "document.documentElement.style.overflow='hidden';"
                 "document.body.style.margin='0px';document.body.style.padding='0px';"
                 "document.body.style.overflow='hidden';"
                 "var g=document.getElementById('{plot_id}');"
                 "g.style.position='absolute';g.style.left='0px';g.style.top='0px';"))
